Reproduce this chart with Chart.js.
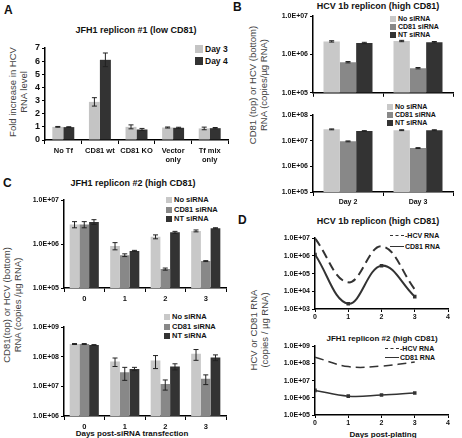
<!DOCTYPE html>
<html>
<head>
<meta charset="utf-8">
<script src="https://cdn.jsdelivr.net/npm/chart.js@4.4.0/dist/chart.umd.min.js"></script>
<style>
  body { margin: 0; background: #fff; width: 462px; height: 438px; position: relative; overflow: hidden;
         font-family: "Liberation Sans", Arial, sans-serif; }
  .box { position: absolute; }
  .t { position: absolute; font-weight: bold; white-space: nowrap; color: #111; transform: translate(-50%, -50%); }
  .letter { position: absolute; font-weight: bold; font-size: 12px; color: #111; }
  .yl { position: absolute; white-space: nowrap; color: #444; font-size: 9.5px; line-height: 10.5px; text-align: center;
        transform: translate(-50%, -50%) rotate(-90deg); }
  .lg { position: absolute; font-size: 7px; font-weight: bold; color: #111; white-space: nowrap; line-height: 8px; }
  .lg i { display: inline-block; width: 6px; height: 6px; margin-right: 2px; vertical-align: -1px; }
  .ln { display: inline-block; width: 14px; height: 0; border-top: 1.5px solid #333; margin-right: 1px; vertical-align: 2px; position: relative; }
</style>
</head>
<body>

<div class="letter" style="left:4px;top:3px">A</div>
<div class="letter" style="left:233px;top:0px">B</div>
<div class="letter" style="left:3px;top:176px">C</div>
<div class="letter" style="left:238px;top:213px">D</div>

<div class="t" style="left:136px;top:30px;font-size:9px">JFH1 replicon #1 (low CD81)</div>
<div class="t" style="left:378px;top:6px;font-size:9px">HCV 1b replicon (high CD81)</div>
<div class="t" style="left:133px;top:183px;font-size:9px">JFH1 replicon #2 (high CD81)</div>
<div class="t" style="left:378px;top:221px;font-size:9px">HCV 1b replicon (high CD81)</div>
<div class="t" style="left:382px;top:338px;font-size:8px">JFH1 replicon #2 (high CD81)</div>
<div class="t" style="left:132px;top:433px;font-size:8px">Days post-siRNA transfection</div>
<div class="t" style="left:383px;top:434px;font-size:8px">Days post-plating</div>

<div class="yl" style="left:18px;top:92px">Fold increase in HCV<br>RNA level</div>
<div class="yl" style="left:258px;top:85px">CD81 (top) or HCV (bottom)<br>RNA (copies/µg RNA)</div>
<div class="yl" style="left:12px;top:305px">CD81(top) or HCV (bottom)<br>RNA (copies /µg RNA)</div>
<div class="yl" style="left:259px;top:330px">HCV or CD81 RNA<br>(copies / µg RNA)</div>

<div class="lg" style="left:195px;top:43px;font-size:8.5px;line-height:12px"><i style="background:#c4c4c4;width:8px;height:8px"></i>Day 3<br><i style="background:#333;width:8px;height:8px"></i>Day 4</div>
<div class="lg" style="left:390px;top:15px"><i style="background:#c8c8c8"></i>No siRNA<br><i style="background:#888"></i>CD81 siRNA<br><i style="background:#333"></i>NT siRNA</div>
<div class="lg" style="left:387px;top:103px"><i style="background:#c8c8c8"></i>No siRNA<br><i style="background:#888"></i>CD81 siRNA<br><i style="background:#333"></i>NT siRNA</div>
<div class="lg" style="left:166px;top:195px;line-height:9.5px;font-size:7.5px"><i style="background:#c8c8c8"></i>No siRNA<br><i style="background:#888"></i>CD81 siRNA<br><i style="background:#333"></i>NT siRNA</div>
<div class="lg" style="left:164px;top:312px;line-height:9.5px;font-size:7.5px"><i style="background:#c8c8c8"></i>No siRNA<br><i style="background:#888"></i>CD81 siRNA<br><i style="background:#333"></i>NT siRNA</div>
<div class="lg" style="left:390px;top:230px;line-height:11px"><span class="ln" style="border-top-style:dashed"></span>-HCV RNA<br><span class="ln"></span>CD81 RNA</div>
<div class="lg" style="left:385px;top:344px;line-height:9px"><span class="ln" style="border-top-style:dashed"></span>-HCV RNA<br><span class="ln"></span>CD81 RNA</div>

<div class="box" id="boxA"><canvas id="chartA"></canvas></div>
<div class="box" id="boxB1"><canvas id="chartB1"></canvas></div>
<div class="box" id="boxB2"><canvas id="chartB2"></canvas></div>
<div class="box" id="boxC1"><canvas id="chartC1"></canvas></div>
<div class="box" id="boxC2"><canvas id="chartC2"></canvas></div>
<div class="box" id="boxD1"><canvas id="chartD1"></canvas></div>
<div class="box" id="boxD2"><canvas id="chartD2"></canvas></div>

<script>
// panel A - fold increase
const aCategories = ['No Tf', 'CD81 wt', 'CD81 KO', ['Vector', 'only'], ['Tf mix', 'only']];
const aDay3 = [1.0, 2.9, 1.0, 0.95, 0.88];
const aDay3Err = [0.03, 0.32, 0.15, 0.04, 0.1];
const aDay4 = [0.98, 6.1, 0.8, 0.93, 0.9];
const aDay4Err = [0.03, 0.52, 0.08, 0.04, 0.05];

// panel B - HCV 1b replicon, CD81 (top) and HCV (bottom)
const bDays = ['Day 2', 'Day 3'];
const bCd81NoSi = [2.2e6, 2.25e6];
const bCd81Cd81Si = [6.3e5, 4.4e5];
const bCd81NtSi = [2.0e6, 2.1e6];
const bHcvNoSi = [2.8e7, 2.6e7];
const bHcvCd81Si = [9.5e6, 5.2e6];
const bHcvNtSi = [2.4e7, 2.6e7];
const bSmallErr = [0.04, 0.04];

// panel C - JFH1 replicon #2
const cDays = ['0', '1', '2', '3'];
const cCd81NoSi = [2.8e6, 9.1e5, 1.47e6, 2.0e6];
const cCd81NoSiErr = [0.45e6, 1.7e5, 1.5e5, 1.0e5];
const cCd81Cd81Si = [2.8e6, 5.6e5, 2.7e5, 4.1e5];
const cCd81Cd81SiErr = [0.45e6, 0.4e5, 0.15e5, 0.1e5];
const cCd81NtSi = [3.2e6, 7.0e5, 1.85e6, 2.3e6];
const cCd81NtSiErr = [0.4e6, 0.2e5, 1.0e5, 0.6e5];
const cHcvNoSi = [2.7e8, 6.9e7, 7.5e7, 1.26e8];
const cHcvNoSiErr = [0.1e8, 2.2e7, 3.5e7, 5.0e7];
const cHcvCd81Si = [2.7e8, 3.0e7, 1.2e7, 1.8e7];
const cHcvCd81SiErr = [0.1e8, 1.4e7, 0.45e7, 0.65e7];
const cHcvNtSi = [2.5e8, 3.9e7, 4.7e7, 9.5e7];
const cHcvNtSiErr = [0.08e8, 0.5e7, 1.1e7, 2.1e7];

// panel D - days post-plating
const dDays = [0, 1, 2, 3];
const dTopHcv = [1.0e7, 3.2e4, 3.5e6, 1.3e4];
const dTopCd81 = [1.2e6, 2.0e3, 2.8e5, 5.0e3];
const dBotHcv = [2.3e8, 6.5e7, 7.0e7, 1.2e8];
const dBotCd81 = [2.7e6, 1.25e6, 1.45e6, 1.9e6];

const light = '#c8c8c8', mid = '#888888', dark = '#333333';

Chart.defaults.font.family = '"Liberation Sans", Arial, sans-serif';
Chart.defaults.color = '#111';
Chart.defaults.animation = false;
Chart.defaults.plugins.legend.display = false;
Chart.defaults.plugins.tooltip.enabled = false;

const errorBars = {
  id: 'errorBars',
  afterDatasetsDraw(chart) {
    const ctx = chart.ctx;
    const y = chart.scales.y;
    chart.data.datasets.forEach((ds, i) => {
      if (!ds.errors) return;
      const meta = chart.getDatasetMeta(i);
      ctx.save();
      ctx.strokeStyle = '#222';
      ctx.lineWidth = 1;
      meta.data.forEach((bar, j) => {
        const v = ds.data[j];
        const e = ds.errors[j];
        const top = y.getPixelForValue(v + e);
        const bot = y.getPixelForValue(Math.max(v - e, y.min));
        ctx.beginPath();
        ctx.moveTo(bar.x, top); ctx.lineTo(bar.x, bot);
        ctx.moveTo(bar.x - 2.5, top); ctx.lineTo(bar.x + 2.5, top);
        ctx.moveTo(bar.x - 2.5, bot); ctx.lineTo(bar.x + 2.5, bot);
        ctx.stroke();
      });
      ctx.restore();
    });
  }
};

// put the canvas so that the plot area lands on L,T,R,B
function place(id, L, T, R, B, yw, xh, pt, pr) {
  const box = document.getElementById('box' + id);
  const cv = document.getElementById('chart' + id);
  const w = R - L + yw + pr, h = B - T + pt + xh;
  box.style.left = (L - yw) + 'px';
  box.style.top = (T - pt) + 'px';
  cv.width = w; cv.height = h;
  cv.style.width = w + 'px'; cv.style.height = h + 'px';
  return { cv, yw, xh, pt, pr };
}

function expLabel(v) {
  const e = Math.round(Math.log10(v));
  return '1.0E+' + String(e).padStart(2, '0');
}

function yLog(min, max, yw) {
  return {
    type: 'logarithmic', min: min, max: max,
    afterBuildTicks: s => {
      const t = [];
      for (let e = Math.round(Math.log10(min)); e <= Math.round(Math.log10(max)); e++) t.push({ value: Math.pow(10, e) });
      s.ticks = t;
    },
    afterFit: s => { s.width = yw; },
    ticks: { callback: expLabel, font: { size: 7, weight: 'bold' }, padding: 2, autoSkip: false },
    grid: { display: true, drawOnChartArea: false, tickLength: 3, color: '#000', lineWidth: 1 },
    border: { color: '#000', width: 1.5 }
  };
}

function xCat(xh, showLabels, size) {
  return {
    afterFit: s => { s.height = xh; },
    ticks: { display: showLabels, font: { size: size, weight: 'bold' }, padding: 2, maxRotation: 0, autoSkip: false },
    grid: { display: true, drawOnChartArea: false, tickLength: 4, color: '#000', offset: true },
    border: { color: '#000', width: 1.5 }
  };
}

function barSet(data, color, errors, cp) {
  return { data: data, backgroundColor: color, borderWidth: 0, errors: errors,
           categoryPercentage: cp, barPercentage: 1.0 };
}

function opts(p, x, y) {
  return {
    responsive: false, devicePixelRatio: 1,
    layout: { padding: { top: p.pt, right: p.pr, left: 0, bottom: 0 } },
    scales: { x: x, y: y }
  };
}

// A
let p = place('A', 45, 48, 228, 140, 22, 30, 8, 4);
new Chart(p.cv, {
  type: 'bar',
  data: {
    labels: aCategories,
    datasets: [barSet(aDay3, '#c4c4c4', aDay3Err, 0.6), barSet(aDay4, dark, aDay4Err, 0.6)]
  },
  options: opts(p, xCat(30, true, 7.5), {
    min: 0, max: 7,
    afterFit: s => { s.width = 22; },
    ticks: { stepSize: 1, autoSkip: false, font: { size: 9, weight: 'bold' }, padding: 2 },
    grid: { display: true, drawOnChartArea: false, tickLength: 3, color: '#000' },
    border: { color: '#000', width: 1.5 }
  }),
  plugins: [errorBars]
});

// B top (CD81)
p = place('B1', 313, 16, 453, 93, 45, 6, 6, 6);
new Chart(p.cv, {
  type: 'bar',
  data: {
    labels: bDays,
    datasets: [
      barSet(bCd81NoSi, light, bCd81NoSi.map(v => v * bSmallErr[0]), 0.7),
      barSet(bCd81Cd81Si, mid, bCd81Cd81Si.map(v => v * bSmallErr[0]), 0.7),
      barSet(bCd81NtSi, dark, bCd81NtSi.map(v => v * bSmallErr[0]), 0.7)
    ]
  },
  options: opts(p, xCat(6, false, 7), yLog(1e5, 1e7, 45)),
  plugins: [errorBars]
});

// B bottom (HCV)
p = place('B2', 313, 115, 453, 192, 45, 16, 6, 6);
new Chart(p.cv, {
  type: 'bar',
  data: {
    labels: bDays,
    datasets: [
      barSet(bHcvNoSi, light, bHcvNoSi.map(v => v * bSmallErr[1]), 0.7),
      barSet(bHcvCd81Si, mid, bHcvCd81Si.map(v => v * bSmallErr[1]), 0.7),
      barSet(bHcvNtSi, dark, bHcvNtSi.map(v => v * bSmallErr[1]), 0.7)
    ]
  },
  options: opts(p, xCat(16, true, 7), yLog(1e5, 1e8, 45)),
  plugins: [errorBars]
});

// C top (CD81)
p = place('C1', 64, 200, 226, 288, 45, 14, 6, 4);
new Chart(p.cv, {
  type: 'bar',
  data: {
    labels: cDays,
    datasets: [
      barSet(cCd81NoSi, light, cCd81NoSiErr, 0.72),
      barSet(cCd81Cd81Si, mid, cCd81Cd81SiErr, 0.72),
      barSet(cCd81NtSi, dark, cCd81NtSiErr, 0.72)
    ]
  },
  options: opts(p, xCat(14, true, 7.5), yLog(1e5, 1e7, 45)),
  plugins: [errorBars]
});

// C bottom (HCV)
p = place('C2', 64, 327, 226, 416, 45, 14, 6, 4);
new Chart(p.cv, {
  type: 'bar',
  data: {
    labels: cDays,
    datasets: [
      barSet(cHcvNoSi, light, cHcvNoSiErr, 0.72),
      barSet(cHcvCd81Si, mid, cHcvCd81SiErr, 0.72),
      barSet(cHcvNtSi, dark, cHcvNtSiErr, 0.72)
    ]
  },
  options: opts(p, xCat(14, true, 7.5), yLog(1e6, 1e9, 45)),
  plugins: [errorBars]
});

function xLin(xh) {
  return {
    type: 'linear', min: 0, max: 4,
    afterFit: s => { s.height = xh; },
    ticks: { stepSize: 1, font: { size: 7, weight: 'bold' }, padding: 1 },
    grid: { display: true, drawOnChartArea: false, tickLength: 3, color: '#000' },
    border: { color: '#000', width: 1.5 }
  };
}

function lineSets(hcv, cd81, w) {
  return [
    { data: dDays.map((d, i) => ({ x: d, y: hcv[i] })), borderColor: dark, borderWidth: w,
      borderDash: [9, 5], pointRadius: 0, tension: 0.4, fill: false },
    { data: dDays.map((d, i) => ({ x: d, y: cd81[i] })), borderColor: dark, borderWidth: w,
      pointStyle: 'rect', pointRadius: 2.5, pointBackgroundColor: dark, pointBorderWidth: 0,
      tension: 0.4, fill: false }
  ];
}

// D top
p = place('D1', 315, 238, 448, 309, 45, 14, 6, 8);
new Chart(p.cv, {
  type: 'line',
  data: { datasets: lineSets(dTopHcv, dTopCd81, 2) },
  options: opts(p, xLin(14), yLog(1e3, 1e7, 45))
});

// D bottom
p = place('D2', 315, 346, 448, 415, 45, 12, 6, 8);
new Chart(p.cv, {
  type: 'line',
  data: { datasets: lineSets(dBotHcv, dBotCd81, 1.5) },
  options: opts(p, xLin(12), yLog(1e5, 1e9, 45))
});
</script>
</body>
</html>
